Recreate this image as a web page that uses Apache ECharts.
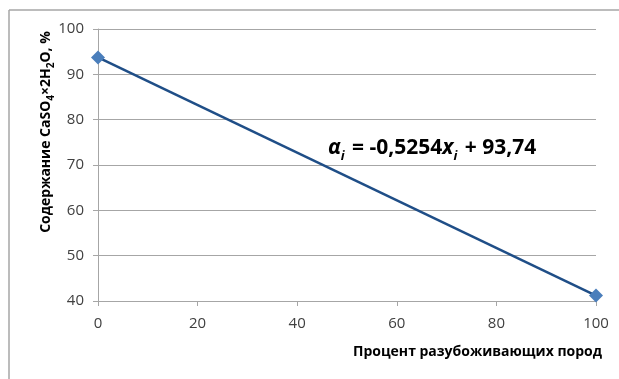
<!DOCTYPE html>
<html>
<head>
<meta charset="utf-8">
<script src="https://cdn.jsdelivr.net/npm/echarts@6/dist/echarts.min.js"></script>
<style>
  html, body { margin: 0; padding: 0; background: #fff; }
  #chart { width: 619px; height: 379px; }
</style>
</head>
<body>
<div id="chart"></div>
<script>
// Share of diluting rock (%) and the resulting gypsum content (%)
const dilutionPercent = [0, 100];
const gypsumContent = [93.74, 41.2];
const xTicks = [0, 20, 40, 60, 80, 100];
const yTicks = [40, 50, 60, 70, 80, 90, 100];

const FONT = '"Open Sans", "Liberation Sans", sans-serif';
const GRAY = '#a6a6a6';

const chart = echarts.init(document.getElementById('chart'), null, { renderer: 'canvas' });

chart.setOption({
  animation: false,
  backgroundColor: '#ffffff',
  grid: { left: 98, right: 23, top: 29, bottom: 78, containLabel: false },
  xAxis: {
    type: 'value',
    min: xTicks[0],
    max: xTicks[xTicks.length - 1],
    interval: 20,
    axisLine: { show: true, lineStyle: { color: GRAY, width: 1 } },
    axisTick: { show: true, inside: false, length: 5, lineStyle: { color: GRAY } },
    axisLabel: { color: '#404040', fontSize: 15, fontFamily: FONT, margin: 15 },
    splitLine: { show: false }
  },
  yAxis: {
    type: 'value',
    min: yTicks[0],
    max: yTicks[yTicks.length - 1],
    interval: 10,
    axisLine: { show: true, lineStyle: { color: GRAY, width: 1 } },
    axisTick: { show: true, inside: false, length: 5, lineStyle: { color: GRAY } },
    axisLabel: { color: '#404040', fontSize: 15, fontFamily: FONT, margin: 14 },
    splitLine: { show: true, lineStyle: { color: GRAY, width: 1 } }
  },
  series: [{
    type: 'line',
    data: dilutionPercent.map((x, i) => [x, gypsumContent[i]]),
    symbol: 'diamond',
    symbolSize: 14,
    showAllSymbol: true,
    lineStyle: { color: '#1f4e87', width: 2.5 },
    itemStyle: { color: '#4a7ebb', borderWidth: 0 }
  }],
  graphic: [
    // outer frame: top and left edges
    { type: 'line', shape: { x1: 9, y1: 10, x2: 619, y2: 10 }, style: { stroke: GRAY, lineWidth: 1.5 }, silent: true },
    { type: 'line', shape: { x1: 9, y1: 10, x2: 9, y2: 379 }, style: { stroke: GRAY, lineWidth: 1.5 }, silent: true },
    // y axis title
    {
      type: 'text',
      x: 44, y: 132,
      rotation: Math.PI / 2,
      style: {
        text: '{b|Содержание CaSO}{s|4}{b|×2H}{s|2}{b|O, %}',
        align: 'center',
        verticalAlign: 'middle',
        rich: {
          b: { fontFamily: FONT, fontWeight: 'bold', fontSize: 14, fill: '#000', lineHeight: 18, verticalAlign: 'bottom' },
          s: { fontFamily: FONT, fontWeight: 'bold', fontSize: 10, fill: '#000', lineHeight: 18, verticalAlign: 'bottom', padding: [0, 0, -3, 0] }
        }
      }
    },
    // x axis title
    {
      type: 'text',
      x: 602, y: 352,
      style: {
        text: 'Процент разубоживающих пород',
        align: 'right',
        verticalAlign: 'middle',
        fontFamily: FONT, fontWeight: 'bold', fontSize: 14, fill: '#000'
      }
    },
    // regression equation
    {
      type: 'text',
      x: 328, y: 146,
      style: {
        text: '{it|α}{sub|i}{b| = -0,5254}{it|x}{sub|i}{b| + 93,74}',
        align: 'left',
        verticalAlign: 'middle',
        rich: {
          b: { fontFamily: FONT, fontWeight: 'bold', fontSize: 21, fill: '#000', lineHeight: 26, verticalAlign: 'bottom' },
          it: { fontFamily: FONT, fontWeight: 'bold', fontStyle: 'italic', fontSize: 21, fill: '#000', lineHeight: 26, verticalAlign: 'bottom' },
          sub: { fontFamily: FONT, fontWeight: 'bold', fontStyle: 'italic', fontSize: 13, fill: '#000', lineHeight: 26, verticalAlign: 'bottom', padding: [0, 2, -4, 0] }
        }
      }
    }
  ]
});
</script>
</body>
</html>
